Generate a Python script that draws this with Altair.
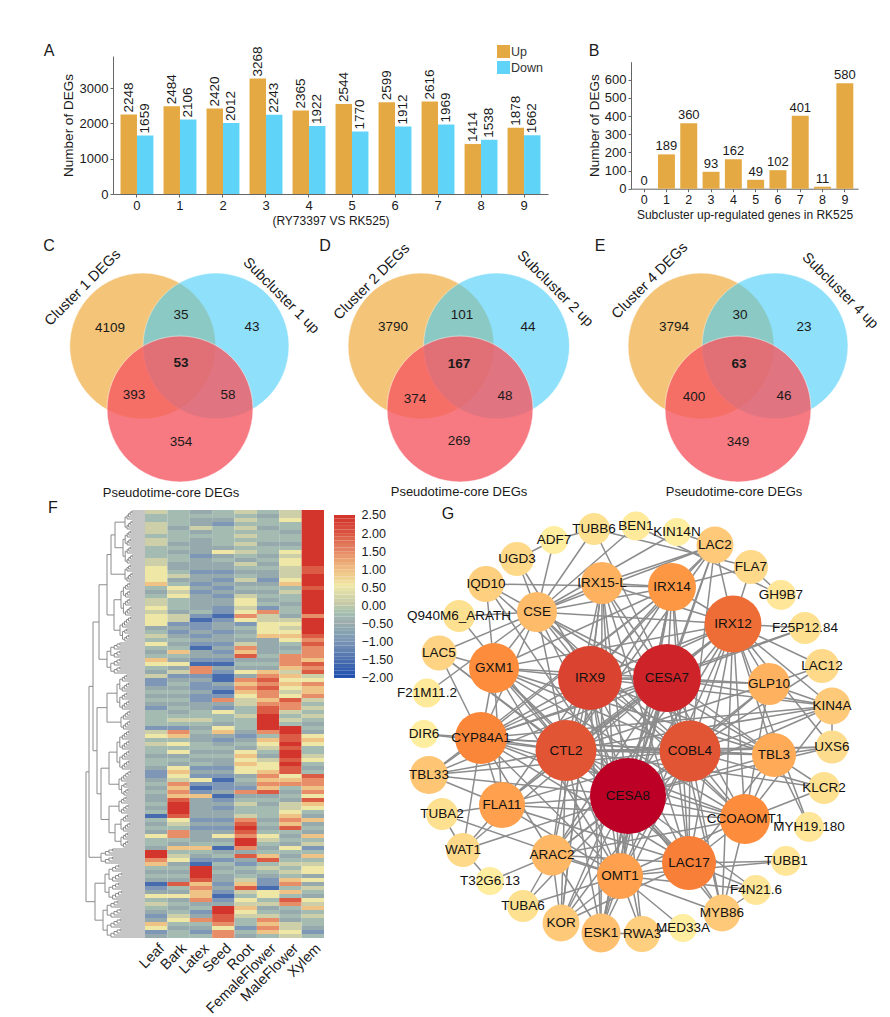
import math
import altair as alt
import pandas as pd

FONT = "Liberation Sans"
ORANGE = "#E4A942"
BLUE = "#60D4F8"

# ---------- A ----------
clusters = list(range(10))
up = [2248, 2484, 2420, 3268, 2365, 2544, 2599, 2616, 1414, 1878]
down = [1659, 2106, 2012, 2243, 1922, 1770, 1912, 1969, 1538, 1662]
# ---------- B ----------
sub_up = [0, 189, 360, 93, 162, 49, 102, 401, 11, 580]

# ---------- C, D, E ----------
venn_x = [142.7, 216, 180, 421, 496.5, 460, 701, 775, 738]
venn_y = [345, 345, 408, 345, 345, 408, 345, 345, 408]
venn_col = ["#EDA020", "#46CDF7", "#F65A63"] * 3
venn_op = [0.6, 0.6, 0.8] * 3
venn_r = 73
num_t = ["4109", "35", "43", "393", "58", "354",
         "3790", "101", "44", "374", "48", "269",
         "3794", "30", "23", "400", "46", "349"]
num_x = [110, 181, 252, 134, 228, 181, 393, 462, 528, 415, 505, 459, 674, 740, 804, 694, 784, 738]
num_y = [327, 314, 326, 394, 394, 441, 326, 314, 326, 398, 395, 440, 326, 314, 326, 396, 395, 441]
bold_t = ["53", "167", "63"]
bold_x = [181, 459, 739]
bold_y = [362, 363, 363]
core_t = ["Pseudotime-core DEGs"] * 3
core_x = [171, 459, 734]
core_y = [492, 491, 491]
rot_t = ["Cluster 1 DEGs", "Subcluster 1 up", "Cluster 2 DEGs", "Subcluster 2 up", "Cluster 4 DEGs", "Subcluster 4 up"]
rot_x = [83, 281, 372, 555, 650, 840]
rot_y = [287, 295, 281, 288, 280, 290]
rot_a = [315, 45, 315, 45, 315, 45]
letter_t = ["C", "D", "E"]
letter_x = [49, 325, 600]
letter_y = [245, 245, 245]

# ---------- F ----------
tissues = ["Leaf", "Bark", "Latex", "Seed", "Root", "FemaleFlower", "MaleFlower", "Xylem"]
level_values = dict(a=-1.6, b=-1.0, c=-0.6, d=-0.3, e=0.1, f=0.5, g=0.9, h=1.4, i=1.9, j=2.4)
heat_cols = [
    "eddeeedeedddee" "ffff" "g" "dcd" "eefef" "ff" "cded" "f" "dcd" "gf" "dce" "bb" "cdcd" "cbd" "ddd" "b" "ef" "ded"
    "dcddc" "bbc" "dcd" "ccdcd" "a" "dcdc" "f" "ddc" "jj" "hg" "dcdc" "ab" "cf" "ded" "cbc" "gf" "bc",
    "ddddcdddcdcddc" "cdecd" "fef" "dddc" "ee" "b" "cbcd" "cd" "g" "dc" "f" "ce" "b" "cdcdcdcdc" "ded" "b" "hg" "dfd"
    "f" "cdc" "fgfe" "hghg" "ijjji" "fed" "hh" "dc" "g" "de" "f" "cdcdc" "i" "dc" "f" "cdcde" "f" "dcdd",
    "cdcc" "e" "cdccccbcc" "cbcc" "bcbc" "cccd" "bab" "bcbcb" "a" "cc" "b" "a" "hh" "b" "cbbc" "bbc" "cdd" "e" "dcdccdd"
    "cdcd" "bcb" "f" "bab" "g" "ccccc" "bcbc" "ccd" "g" "dc" "ba" "jjji" "ghggh" "cd" "bc" "h" "dcbd",
    "ddc" "b" "dddddc" "f" "cdc" "cbcb" "cbcbccb" "bab" "ccbcc" "b" "cbcb" "a" "cb" "a" "a" "cb" "a" "b" "h" "cb" "f" "ddc" "f" "g" "cbcd"
    "cdcc" "bcb" "abbc" "a" "bcbcc" "bcbc" "f" "cd" "a" "cd" "b" "dcdcc" "bcb" "a" "bc" "jji" "ih" "f" "hh",
    "e" "deded" "ede" "dedc" "e" "dcd" "e" "cdc" "effe" "f" "h" "f" "b" "dcdc" "e" "hgi" "cdc" "f" "c" "h" "ghg" "fe" "edde" "dddc" "b" "cdc"
    "fgfgff" "cdcb" "h" "c" "dedde" "hi" "j" "ih" "jj" "h" "c" "i" "cb" "dcde" "gi" "edfe" "gfedd" "b" "dc",
    "dcddcdddcddcdcdc" "cbcdcdcdb" "h" "eef" "ffg" "ccc" "cdcdc" "gh" "ihihh" "gh" "ii" "jjjj" "h" "dgfe"
    "dc" "eff" "ghghg" "i" "cdcdd" "dcdcd" "fe" "dcd" "gi" "ded" "cb" "ba" "ff" "decde" "h" "ghgd",
    "eef" "ddcddcd" "feffe" "eef" "g" "ded" "dcddc" "efef" "g" "f" "dcd" "hh" "hg" "e" "gfg" "fef" "ih" "h" "eded" "jji" "iji"
    "jjijii" "f" "gh" "dcdc" "ee" "fg" "hgi" "dcdc" "f" "dcde" "ded" "gh" "dgd" "ih" "dcdce" "efe",
    "jjjjjjjjjjjjjjiijjjijjjjjj" "h" "jjjji" "h" "ih" "h" "hg" "ihi" "ef" "hgg" "h" "ed" "ededcdc" "fgfd"
    "def" "dcd" "ihh" "ghf" "igf" "dc" "g" "cdc" "g" "de" "b" "dg" "def" "f" "cfc" "edc" "fegde" "dd" "c" "b" "d",
]
N_ROWS = 107
heat_domain = [-2, -1.5, -1, -0.5, 0, 0.5, 1, 1.5, 2, 2.5]
heat_range = ["#2150AE", "#4F73AF", "#7F97B6", "#A0ADAE", "#C5C9A7", "#EFE7A6", "#EFB880", "#E48364", "#D9503E", "#D22B27"]
bar_levels = [-2 + k * 0.1 for k in range(45)]
bar_ticks = [-2, -1.5, -1, -0.5, 0, 0.5, 1, 1.5, 2, 2.5]

# dendrogram: (merge height, upper child, lower child); (n, h) is a bundle of n leaves joining at h
A_, B_, C_, D_, E_, F_ = (10, 20), (17, 22), (9, 20), (17, 24), (13, 25), (16, 38)
G_, H_, I_, J_, K_, L_ = (18, 28), (10, 24), (20, 28), (13, 26), (9, 26), (9, 24)
M_, N_, O_, P_ = (8, 24), (8, 44), (18, 40), (19, 42)
tree = (59,
        (56,
         (52,
          (46, (38, (34, (30, A_, B_), C_), (31, D_, E_)), F_),
          (48, (38, G_, H_), (44, (36, I_, J_), (36, K_, (30, L_, M_))))),
         N_),
        (50, O_, P_))

# ---------- G ----------
node_names = ["TUBB6", "BEN1", "KIN14N", "ADF7", "LAC2", "UGD3", "FLA7", "IQD10", "IRX15-L", "IRX14", "GH9B7", "CSE",
              "Q940M6_ARATH", "IRX12", "F25P12.84", "LAC5", "GXM1", "IRX9", "CESA7", "GLP10", "LAC12", "F21M11.2",
              "KIN4A", "DIR6", "CYP84A1", "CTL2", "COBL4", "TBL3", "UXS6", "TBL33", "KLCR2", "CESA8", "FLA11",
              "CCOAOMT1", "TUBA2", "MYH19.180", "WAT1", "ARAC2", "LAC17", "TUBB1", "OMT1", "T32G6.13", "F4N21.6",
              "TUBA6", "MYB86", "KOR", "ESK1", "RWA3", "MED33A"]
node_x = [594, 636, 677, 554, 715, 517, 751, 486, 602, 672, 781, 537, 459, 733, 805, 439, 494, 590, 667, 769, 822, 427,
          832, 424, 481, 566, 690, 774, 832, 429, 824, 628, 502, 745, 442, 809, 463, 552, 689, 786, 620, 490, 756, 523,
          722, 561, 601, 642, 683]
node_y = [528, 525, 531, 539, 544, 558, 566, 583, 582, 586, 594, 611, 615, 623, 627, 652, 667, 677, 677, 683, 665, 692,
          705, 733, 737, 749.5, 750, 754, 746, 774, 787, 795, 804, 818, 813, 826, 849, 854, 862, 860, 875, 880, 889,
          905, 912, 922, 932, 933, 927]
node_deg = [16, 14.5, 14, 14, 18.5, 17, 17, 18, 21, 24, 15, 20, 16, 28.5, 16, 17.5, 25, 32, 34, 21, 17, 14.5, 18.5, 14,
            26, 30.5, 30.5, 22, 16.5, 19, 16, 38, 23, 25, 16, 15, 17, 20.5, 27, 15, 23, 14, 15, 16, 18.5, 18.5, 19.5,
            18, 14]
deg_domain = [14, 17, 20, 22.5, 25, 27, 30.5, 34, 38]
deg_range = ["#FFEDA0", "#FED98A", "#FEBB6A", "#FEA551", "#FD8D3C", "#F77F38", "#E25534", "#CE2429", "#BD0026"]
links = {
    "CESA8": "CESA7 IRX9 CTL2 COBL4 IRX12 IRX14 IRX15-L GXM1 CYP84A1 FLA11 CCOAOMT1 LAC17 OMT1 ARAC2 TBL3 GLP10 CSE KOR ESK1 RWA3 MYB86 TBL33 KIN4A LAC5 UXS6 F4N21.6 WAT1 TUBA6 LAC2 IQD10",
    "CESA7": "IRX9 CTL2 COBL4 IRX12 IRX14 IRX15-L GXM1 CYP84A1 FLA11 CCOAOMT1 LAC17 OMT1 ARAC2 TBL3 GLP10 CSE KIN4A KOR ESK1 LAC2 MYB86 F25P12.84 TUBB6 TBL33 WAT1",
    "IRX9": "CTL2 COBL4 IRX12 IRX14 IRX15-L GXM1 CYP84A1 FLA11 CCOAOMT1 LAC17 OMT1 ARAC2 TBL3 CSE UGD3 IQD10 ESK1 RWA3 KOR LAC2 GLP10 KIN4A",
    "CTL2": "COBL4 IRX12 IRX14 IRX15-L GXM1 CYP84A1 FLA11 CCOAOMT1 LAC17 OMT1 ARAC2 TBL3 CSE KOR ESK1 Q940M6_ARATH TBL33 DIR6 KLCR2 LAC5 GLP10 KIN4A UXS6 LAC2",
    "COBL4": "IRX12 IRX14 IRX15-L GXM1 CYP84A1 FLA11 CCOAOMT1 LAC17 OMT1 ARAC2 TBL3 GLP10 UXS6 KLCR2 MYB86 KIN4A LAC12 TBL33 LAC2 CSE KOR ESK1",
    "IRX12": "IRX14 IRX15-L CYP84A1 FLA11 CCOAOMT1 LAC17 OMT1 TBL3 GLP10 KIN4A LAC12 F25P12.84 UXS6 MYH19.180 LAC2 FLA7 CSE GXM1 ARAC2 MYB86",
    "LAC17": "CCOAOMT1 OMT1 FLA11 ARAC2 TBL3 GXM1 MYB86 TUBB1 KOR F4N21.6 CYP84A1 IRX14 IRX15-L",
    "CYP84A1": "GXM1 FLA11 CCOAOMT1 F25P12.84 TBL3 KIN4A WAT1 TBL33 CSE ARAC2 DIR6 LAC5 IRX14 OMT1",
    "GXM1": "IRX14 CSE FLA11 CCOAOMT1 TBL3 LAC5 IQD10 OMT1",
    "CCOAOMT1": "TBL3 OMT1 KLCR2 MYB86 FLA11 ARAC2 GLP10 KIN4A CSE",
    "IRX14": "IRX15-L CSE LAC2 TBL33 FLA7 OMT1 IQD10 ESK1",
    "IRX15-L": "CSE LAC2 OMT1 ESK1 KOR",
    "CSE": "UGD3 IQD10 ADF7 TUBB6 BEN1 LAC2 LAC5 Q940M6_ARATH TBL3 F21M11.2 KIN14N",
    "OMT1": "ESK1 RWA3 KOR ARAC2 FLA11 TUBB1 MED33A TUBA6 F4N21.6 MYB86 TUBA2",
    "ADF7": "TUBB6 UGD3",
    "BEN1": "GH9B7",
    "FLA7": "GH9B7 TUBB6",
    "LAC2": "KIN14N",
    "TBL3": "UXS6 MYH19.180 KLCR2",
    "TUBA2": "WAT1 FLA11",
    "WAT1": "FLA11 T32G6.13",
    "ARAC2": "T32G6.13 TUBA6 KOR ESK1",
    "ESK1": "RWA3",
    "RWA3": "MED33A",
    "MYB86": "F4N21.6",
    "GLP10": "KIN4A LAC12",
    "KIN4A": "UXS6",
    "TBL33": "FLA11",
}

# ---------- helpers ----------
base_font = dict(font=FONT, color="#1a1a1a")


def letter(txt, x, y):
    return alt.Chart(pd.DataFrame({"t": [txt]})).mark_text(fontSize=16, align="center", baseline="middle", **base_font).encode(
        x=alt.value(x), y=alt.value(y), text="t:N")


def spacer(w, h=10):
    return alt.Chart(pd.DataFrame({"t": [""]})).mark_text().encode(x=alt.value(0), y=alt.value(0), text="t:N").properties(width=w, height=h)


axis_common = dict(domainColor="#666666", tickColor="#666666", labelColor="#1a1a1a", titleColor="#1a1a1a", grid=False,
                   tickSize=3, labelFont=FONT, titleFont=FONT, titleFontWeight="normal")

# ---------- panel A ----------
a_df = pd.DataFrame({
    "cluster": clusters * 2,
    "type": ["Up"] * 10 + ["Down"] * 10,
    "n": up + down,
})
a_x = alt.X("cluster:O", scale=alt.Scale(paddingInner=0.235, paddingOuter=0.175),
            axis=alt.Axis(labelAngle=0, labelFontSize=13, title="(RY73397 VS RK525)", titleFontSize=12, titlePadding=3, **axis_common))
a_y = alt.Y("n:Q", scale=alt.Scale(domain=[0, 3906], nice=False),
            axis=alt.Axis(values=[0, 1000, 2000, 3000], format="d", labelFontSize=13, title="Number of DEGs", titleFontSize=13.5, titlePadding=4, **axis_common))
a_off = alt.XOffset("type:N", scale=alt.Scale(domain=["Up", "Down"]))
a_bars = alt.Chart(a_df).mark_bar().encode(
    x=a_x, y=a_y, xOffset=a_off,
    color=alt.Color("type:N", scale=alt.Scale(domain=["Up", "Down"], range=[ORANGE, BLUE]),
                    legend=alt.Legend(orient="none", legendX=383, legendY=-12, symbolType="square", symbolSize=170,
                                      title=None, labelFontSize=12.5, labelFont=FONT, labelColor="#333333",
                                      rowPadding=1, labelOffset=0)),
)
a_text = alt.Chart(a_df).mark_text(angle=270, align="left", baseline="middle", dx=2, fontSize=13.5, **base_font).encode(
    x=a_x, y=a_y, xOffset=a_off, text="n:Q")
panel_a = alt.layer(a_bars, a_text, letter("A", -64, -5)).properties(width=435, height=138)

# ---------- panel B ----------
b_df = pd.DataFrame({"cluster": clusters, "n": sub_up})
b_x = alt.X("cluster:O", scale=alt.Scale(paddingInner=0.24, paddingOuter=0.21),
            axis=alt.Axis(labelAngle=0, labelFontSize=12.5, title="Subcluster up-regulated genes in RK525", titleFontSize=12,
                          titlePadding=3, offset=-5.3, **axis_common))
b_y = alt.Y("n:Q", scale=alt.Scale(domain=[0, 699], range=[132.7, 5.7], nice=False),
            axis=alt.Axis(values=[0, 100, 200, 300, 400, 500, 600], labelFontSize=13, title="Number of DEGs", titleFontSize=13.5,
                          titlePadding=3, **axis_common))
b_bars = alt.Chart(b_df).mark_bar(color=ORANGE).encode(x=b_x, y=b_y)
b_text = alt.Chart(b_df).mark_text(baseline="bottom", dy=-1, fontSize=13, **base_font).encode(x=b_x, y=b_y, text="n:Q")
panel_b = alt.layer(b_bars, b_text, letter("B", -37, -5)).properties(width=227, height=138)

# ---------- panels C, D, E ----------
vx = alt.Scale(domain=[40, 860], nice=False)
vy = alt.Scale(domain=[489, 213], nice=False)
X = lambda: alt.X("x:Q", scale=vx, axis=None)
Y = lambda: alt.Y("y:Q", scale=vy, axis=None)
circ_df = pd.DataFrame({"x": venn_x, "y": venn_y, "c": venn_col, "o": venn_op, "s": [(2 * venn_r) ** 2] * 9})
v_circ = alt.Chart(circ_df).mark_circle(stroke="#ffffff", strokeWidth=0.6).encode(
    x=X(), y=Y(), color=alt.Color("c:N", scale=None), opacity=alt.Opacity("o:Q", scale=None), size=alt.Size("s:Q", scale=None))
v_num = alt.Chart(pd.DataFrame({"x": num_x, "y": num_y, "t": num_t})).mark_text(fontSize=13.5, **base_font).encode(x=X(), y=Y(), text="t:N")
v_bold = alt.Chart(pd.DataFrame({"x": bold_x, "y": bold_y, "t": bold_t})).mark_text(fontSize=13.5, fontWeight="bold", **base_font).encode(x=X(), y=Y(), text="t:N")
v_core = alt.Chart(pd.DataFrame({"x": core_x, "y": core_y, "t": core_t})).mark_text(fontSize=13, **base_font).encode(x=X(), y=Y(), text="t:N")
v_rot = alt.Chart(pd.DataFrame({"x": rot_x, "y": rot_y, "t": rot_t, "a": rot_a})).mark_text(fontSize=14.5, **base_font).encode(
    x=X(), y=Y(), text="t:N", angle=alt.Angle("a:Q", scale=None))
v_let = alt.Chart(pd.DataFrame({"x": letter_x, "y": letter_y, "t": letter_t})).mark_text(fontSize=16, **base_font).encode(x=X(), y=Y(), text="t:N")
panel_venn = alt.layer(v_circ, v_num, v_bold, v_core, v_rot, v_let).properties(width=820, height=276)

# ---------- panel F ----------
recs = []
for t, col in zip(tissues, heat_cols):
    col = (col + col[-1] * N_ROWS)[:N_ROWS]
    for i, ch in enumerate(col):
        recs.append({"tissue": t, "row": i, "v": level_values[ch]})
heat_color = alt.Scale(domain=heat_domain, range=heat_range)
heat = alt.Chart(pd.DataFrame(recs)).mark_rect(strokeWidth=0).encode(
    x=alt.X("tissue:N", sort=tissues, scale=alt.Scale(padding=0),
            axis=alt.Axis(labelAngle=315, labelAlign="right", labelBaseline="middle", labelFontSize=14.5, labelFont=FONT, labelColor="#1a1a1a",
                          ticks=False, domain=False, title=None, labelPadding=8, labelOffset=6)),
    y=alt.Y("row:O", scale=alt.Scale(padding=0), axis=None),
    color=alt.Color("v:Q", scale=heat_color, legend=None),
).properties(width=179, height=428)

segs = []
leaf_pos = [0]


def join(h, lower, upper):
    ya, ha = lower
    yb, hb = upper
    segs.append((h, h, ya, yb))
    segs.append((h, ha, ya, ya))
    segs.append((h, hb, yb, yb))
    return (ya + yb) / 2, h


def leaf():
    y = (leaf_pos[0] + 0.5) / 2
    leaf_pos[0] += 1
    return y, 0


def walk(node):
    if len(node) == 2:
        return bundle(*node)
    h, a, b = node
    return join(h, walk(a), walk(b))


def bundle(n, h):
    if n > 6:
        n1 = n // 2
        return join(h, bundle(n1, h * 0.9), bundle(n - n1, h * 0.9))
    # staircase of up to six leaves
    cur = leaf()
    for k in range(1, n):
        cur = join(h * (1 - 0.09 * (n - 1 - k)), cur, leaf())
    return cur


walk(tree)
den_df = pd.DataFrame(segs, columns=["x", "x2", "y", "y2"])
dendro = alt.Chart(den_df).mark_rule(color="#8c8c8c", strokeWidth=1).encode(
    x=alt.X("x:Q", scale=alt.Scale(domain=[60, 0], nice=False), axis=None),
    x2="x2:Q",
    y=alt.Y("y:Q", scale=alt.Scale(domain=[0, 107], reverse=True, nice=False), axis=None),
    y2="y2:Q",
)
panel_den = alt.layer(dendro, letter("F", -32, -2)).properties(width=60, height=428)

cb_df = pd.DataFrame({"v": bar_levels, "v2": [v + 0.1 for v in bar_levels], "a": [334] * 45, "b": [355] * 45})
colorbar = alt.Chart(cb_df).mark_rect(strokeWidth=0).encode(
    x=alt.X("a:Q", scale=alt.Scale(domain=[324, 355], nice=False), axis=None),
    x2="b:Q",
    y=alt.Y("v:Q", scale=alt.Scale(domain=[-9.18, 2.638], nice=False),
            axis=alt.Axis(orient="right", values=bar_ticks, format=".2f", ticks=False, domain=False, grid=False, title=None,
                          labelFontSize=12.5, labelFont=FONT, labelColor="#1a1a1a", labelPadding=6)),
    y2="v2:Q",
    color=alt.Color("v:Q", scale=heat_color, legend=None),
).properties(width=31, height=428)

# ---------- panel G ----------
pos = {n: (x, y) for n, x, y in zip(node_names, node_x, node_y)}
seen = set()
erecs = []
for a, targets in links.items():
    for b in targets.split():
        key = tuple(sorted((a, b)))
        if key in seen:
            continue
        seen.add(key)
        erecs.append({"x": pos[a][0], "y": pos[a][1], "x2": pos[b][0], "y2": pos[b][1]})
gx = alt.Scale(domain=[355, 870], nice=False)
gy = alt.Scale(domain=[937, 509], nice=False)
edges = alt.Chart(pd.DataFrame(erecs)).mark_rule(color="#8C8C8C", strokeWidth=1.5).encode(
    x=alt.X("x:Q", scale=gx, axis=None), y=alt.Y("y:Q", scale=gy, axis=None), x2="x2:Q", y2="y2:Q")
node_df = pd.DataFrame({"x": node_x, "y": node_y, "name": node_names, "deg": node_deg,
                        "area": [(2 * r) ** 2 for r in node_deg]})
nodes = alt.Chart(node_df).mark_circle(opacity=1).encode(
    x=alt.X("x:Q", scale=gx, axis=None), y=alt.Y("y:Q", scale=gy, axis=None),
    size=alt.Size("area:Q", scale=None),
    color=alt.Color("deg:Q", scale=alt.Scale(domain=deg_domain, range=deg_range), legend=None),
)
labels = alt.Chart(node_df).mark_text(fontSize=13.5, font=FONT, color="#111111").encode(
    x=alt.X("x:Q", scale=gx, axis=None), y=alt.Y("y:Q", scale=gy, axis=None), text="name:N")
panel_g = alt.layer(edges, nodes, labels, letter("G", 448 - 355, 4)).properties(width=515, height=428)

# ---------- layout ----------
row1 = alt.hconcat(spacer(73), panel_a, spacer(83), panel_b, spacing=0, bounds="flush").resolve_scale(color="independent")
row3 = alt.hconcat(spacer(45), panel_den, heat, colorbar, panel_g, spacing=0, bounds="flush").resolve_scale(color="independent")
chart = alt.vconcat(row1, spacer(10, 118), panel_venn, row3, spacing=20, bounds="flush").resolve_scale(color="independent").configure_view(stroke=None).properties(
    padding={"left": 32, "top": 35, "right": 0, "bottom": 0})
chart.save("out.html", embed_options={"renderer": "svg", "actions": False})
